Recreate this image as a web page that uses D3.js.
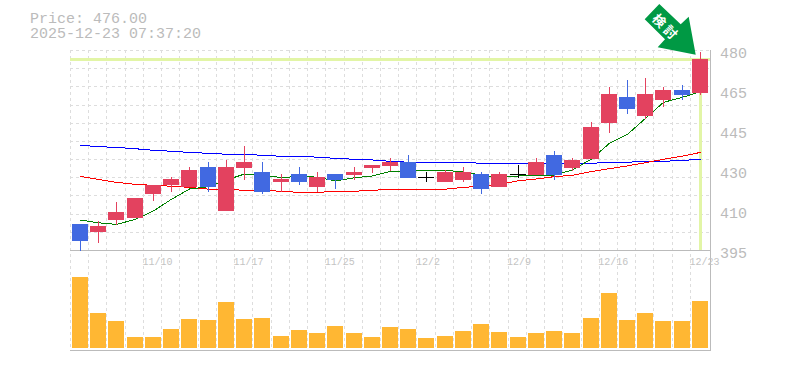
<!DOCTYPE html>
<html><head><meta charset="utf-8">
<style>html,body{margin:0;padding:0;background:#fff}svg{display:block}</style>
<script src="https://cdn.jsdelivr.net/npm/d3@7"></script></head>
<body><svg id="c" width="785" height="370"></svg>
<script>
const titleLines = ["Price: 476.00", "2025-12-23 07:37:20"];
const lastPrice = 476;
const priceTicks = [480, 462.5, 445, 427.5, 410, 392.5];
const priceTickLabels = ["480", "465", "445", "430", "410", "395"];
const dateLabels = ["11/10", "11/17", "11/25", "12/2", "12/9", "12/16", "12/23"];
const dateLabelIndex = [4, 9, 14, 19, 24, 29, 34];
const open  = [403.9,400.4,405.6,406.5,417,420.9,420,428.8,409.6,428.4,426.6,422.25,425.75,420.1,425.75,425.3,428.4,429.25,431,424.4,422.25,423.1,425.75,420.1,425.6,425.3,434.1,428.4,432.3,448.1,459.4,451.1,458.1,462.5,461.2];
const high  = [403.9,405.2,413.5,415.25,420.9,424.4,428.8,431,431.9,438,431,425.75,428.8,426.6,425.75,428.8,429.7,432.75,434.1,426.6,427.5,428.8,426.6,426.6,429.7,432.75,435.8,432.75,448.5,463.8,466.9,467.75,463.8,464.7,479.1];
const low   = [392.2,395.6,403.4,406.5,414.1,418,420,417.9,409.6,423.1,417,417.9,420.9,417.9,419.2,423.1,426.2,427.1,424,422.25,422.25,422.25,417,420.1,424,425.3,423.1,427.1,432.3,443.7,452,449.8,455.1,458.1,460.3];
const close = [396.6,403,409.1,415.25,420.9,423.6,427.5,420.1,428.8,431,417.9,423.6,422.25,424.4,423.1,426.6,429.7,431,424,424.4,426.6,426.6,419.2,425.75,425.6,431,425.3,431.9,446.3,460.75,454.2,460.75,462.5,460.3,476];
const maGreen = [405.6,404.4,403.7,405.9,409.6,414.7,419.2,420.2,423.1,425.75,424.9,424.3,424.6,424.4,422.7,424.1,424.9,426.9,427.1,427.4,427.4,426.6,425.3,424.1,424.9,425.3,425.3,427.5,432.3,439.2,443.1,450.1,457.1,459.3,461.8];
const maBlue  = [438.3,437.7,437.4,436.8,436.1,435.7,435.2,434.8,434.4,434.4,433.9,433.5,433.5,433.1,432.6,432.2,431.9,431.3,430.9,430.9,430.9,430.9,430.4,430.4,430.4,430.4,430.4,430.4,430.4,430.9,430.9,431.3,431.3,431.7,432.2];
const maRed   = [424.7,423.4,422.1,421.2,420.8,420.4,419.9,419.1,419.1,418.6,418.6,418.2,417.7,417.7,418.2,418.2,418.6,419.1,419.1,419.1,419.1,419.9,420.4,421.2,422.8,423.6,424.6,425.2,426.8,428.1,429.3,430.7,432.2,433.6,435.2];
const volume  = [71,35,27,11,11,19,29,28,46,29,30,12,18,15,22,15,11,21,19,10,12,17,24,16,11,15,17,15,30,55,28,35,27,27,47];

const svg = d3.select("#c");
const L = 70, R = 708.2, AX = 710, T = 50, B = 250, VB = 350, VZero = 348, VTop = 277;
const x = d3.scaleBand().domain(d3.range(open.length)).range([L, R]);
const y = d3.scaleLinear().domain([392.5, 480]).range([B, T]);
const v = d3.scaleLinear().domain([0, d3.max(volume)]).range([VZero, VTop]);
const bx = i => Math.round(x(i)) + 2;
const cx = i => bx(i) + 8;
const px = n => Math.round(n);
const GRID = "#ddd", AXC = "#bbb", TXT = "#bbb";

const grid = svg.append("g");
d3.range(0, 12).forEach(k => {
  const gy = Math.round(T + k * (B - T) / 11) + 0.5;
  grid.append("line").attr("x1", L).attr("x2", AX).attr("y1", gy).attr("y2", gy);
});
d3.range(open.length).forEach(i => {
  const gx = Math.round(x(i)) + 0.5;
  grid.append("line").attr("x1", gx).attr("x2", gx).attr("y1", T).attr("y2", VB);
});
grid.selectAll("line").attr("stroke", GRID).attr("stroke-dasharray", "3,3").attr("shape-rendering", "crispEdges");

const hl = "#e2f5a6";
svg.append("rect").attr("x", L).attr("width", AX - L).attr("y", px(y(lastPrice)) - 1).attr("height", 3).attr("fill", hl);
svg.append("rect").attr("x", cx(34) - 1).attr("width", 3).attr("y", px(y(lastPrice))).attr("height", B - px(y(lastPrice))).attr("fill", hl);

const axes = svg.append("g").attr("stroke", AXC).attr("shape-rendering", "crispEdges");
axes.append("line").attr("x1", L).attr("x2", AX).attr("y1", B + 0.5).attr("y2", B + 0.5);
axes.append("line").attr("x1", L).attr("x2", AX + 1).attr("y1", VB + 0.5).attr("y2", VB + 0.5);
axes.append("line").attr("x1", AX + 0.5).attr("x2", AX + 0.5).attr("y1", T).attr("y2", VB + 1);

svg.append("g").selectAll("rect").data(volume).join("rect")
  .attr("x", (d, i) => bx(i)).attr("width", 16)
  .attr("y", d => px(v(d))).attr("height", d => VZero - px(v(d))).attr("fill", "#ffb733");

const lineOf = d3.line().x((d, i) => cx(i) + 0.5).y(d => y(d));
[[maBlue, "#0000ff"], [maRed, "#ff0000"], [maGreen, "#008000"]].forEach(([s, c]) => {
  svg.append("path").attr("d", lineOf(s)).attr("fill", "none").attr("stroke", c).attr("stroke-width", 1).attr("shape-rendering", "crispEdges");
});

const RED = "#e3425f", BLUE = "#4169e1", BLACK = "#000";
const col = i => Math.abs(y(close[i]) - y(open[i])) < 1 ? BLACK : close[i] > open[i] ? RED : BLUE;
const candles = svg.append("g").attr("shape-rendering", "crispEdges");
d3.range(open.length).forEach(i => {
  candles.append("rect").attr("x", cx(i)).attr("width", 1).attr("y", px(y(high[i]))).attr("height", px(y(low[i])) - px(y(high[i]))).attr("fill", col(i));
  const t = px(y(Math.max(open[i], close[i]))), b = px(y(Math.min(open[i], close[i])));
  candles.append("rect").attr("x", bx(i)).attr("width", 16).attr("y", t).attr("height", Math.max(1, b - t)).attr("fill", col(i));
});

const mono = "'Liberation Mono', monospace";
svg.append("g").selectAll("text").data(titleLines).join("text")
  .attr("x", 30).attr("y", (d, i) => 23 + i * 15).text(d => d)
  .attr("font-family", mono).attr("font-size", 15).attr("fill", TXT);
svg.append("g").selectAll("text").data(priceTicks).join("text")
  .attr("x", 720).attr("y", d => y(d) + 8).text((d, i) => priceTickLabels[i])
  .attr("font-family", mono).attr("font-size", 15).attr("fill", TXT);
svg.append("g").selectAll("text").data(dateLabels).join("text")
  .attr("x", (d, i) => x(dateLabelIndex[i]) - 0.5).attr("y", 265).text(d => d)
  .attr("font-family", mono).attr("font-size", 10).attr("fill", "#c4c4c4");

const arrow = svg.append("g");
arrow.append("path").attr("d", "M659.3,4L644.7,19.3L665,39.3L657.7,47.3L695.7,54.7L688.7,16.7L680.7,24.3Z").attr("fill", "#009944");
arrow.append("text").attr("transform", "translate(666.5,27) rotate(45)").attr("text-anchor", "middle").attr("dominant-baseline", "central")
  .attr("font-family", "'Noto Sans CJK JP'").attr("font-size", 13).attr("letter-spacing", 3).attr("font-weight", 700).attr("fill", "#fff").text("検討");
</script></body></html>
